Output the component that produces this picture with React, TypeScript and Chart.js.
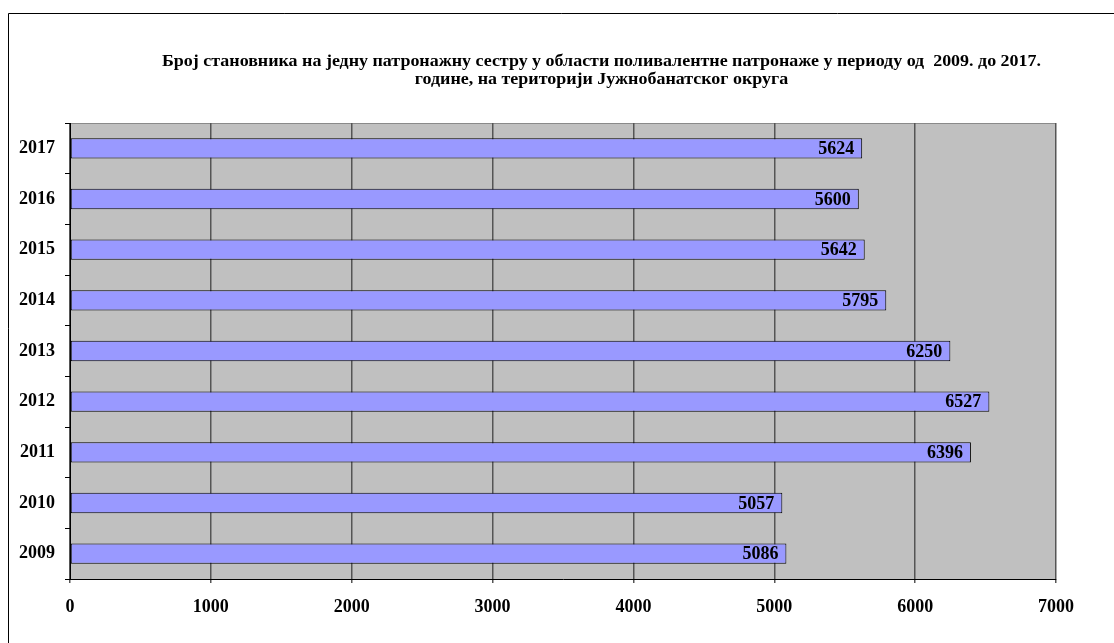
import React, { useEffect, useRef } from "react";
import { Chart, registerables } from "chart.js";

Chart.register(...registerables);

const years: string[] = ["2009", "2010", "2011", "2012", "2013", "2014", "2015", "2016", "2017"];
const values: number[] = [5086, 5057, 6396, 6527, 6250, 5795, 5642, 5600, 5624];
const titleLines: string[] = [
  "Број становника на једну патронажну сестру у области поливалентне патронаже у периоду од  2009. до 2017.",
  "године, на територији Јужнобанатског округа",
];
const xMin = 0;
const xMax = 7000;
const xStep = 1000;

const FONT = "'Liberation Serif', 'Times New Roman', Times, serif";

export default function App() {
  const ref = useRef<HTMLCanvasElement | null>(null);

  useEffect(() => {
    if (!ref.current) return;

    const decorPlugin = {
      id: "decor",
      beforeDraw(chart: any) {
        const { ctx, chartArea } = chart;
        ctx.save();
        ctx.fillStyle = "#ffffff";
        ctx.fillRect(0, 0, chart.width, chart.height);
        ctx.fillStyle = "#c0c0c0";
        ctx.fillRect(chartArea.left, chartArea.top, chartArea.right - chartArea.left, chartArea.bottom - chartArea.top);
        ctx.strokeStyle = "#8a8a8a";
        ctx.lineWidth = 1;
        ctx.beginPath();
        ctx.moveTo(chartArea.left, chartArea.top + 0.5);
        ctx.lineTo(chartArea.right, chartArea.top + 0.5);
        ctx.stroke();
        // outer frame (left and top edges)
        ctx.strokeStyle = "#000000";
        ctx.lineWidth = 1;
        ctx.beginPath();
        ctx.moveTo(8.5, chart.height);
        ctx.lineTo(8.5, 13.5);
        ctx.lineTo(chart.width, 13.5);
        ctx.stroke();
        // title
        ctx.fillStyle = "#000000";
        ctx.font = `bold 17px ${FONT}`;
        ctx.textBaseline = "alphabetic";
        const targetW = 879;
        const w1 = ctx.measureText(titleLines[0]).width;
        const ratio = targetW / w1;
        const cx = 601.5;
        ctx.translate(cx, 0);
        ctx.scale(ratio, 1);
        ctx.textAlign = "center";
        ctx.fillText(titleLines[0], 0, 66);
        ctx.fillText(titleLines[1], 0, 84);
        ctx.restore();
      },
      afterDatasetsDraw(chart: any) {
        const { ctx } = chart;
        const meta = chart.getDatasetMeta(0);
        ctx.save();
        ctx.fillStyle = "#000000";
        ctx.font = `bold 18px ${FONT}`;
        ctx.textAlign = "right";
        ctx.textBaseline = "middle";
        meta.data.forEach((bar: any, i: number) => {
          ctx.fillText(String(values[i]), bar.x - 8, bar.y + 1);
        });
        ctx.restore();
      },
    };

    const chart = new Chart(ref.current, {
      type: "bar",
      data: {
        labels: years,
        datasets: [
          {
            data: values,
            backgroundColor: "#9999ff",
            borderColor: "#000000",
            borderWidth: 1,
            borderSkipped: false,
            categoryPercentage: 1,
            barPercentage: 0.4,
          },
        ],
      },
      options: {
        indexAxis: "y",
        responsive: false,
        animation: false,
        devicePixelRatio: 1,
        layout: { padding: { top: 123, right: 58, left: 0, bottom: 0 } },
        plugins: {
          legend: { display: false },
          tooltip: { enabled: false },
          title: { display: false },
        },
        scales: {
          x: {
            type: "linear",
            min: xMin,
            max: xMax,
            ticks: {
              stepSize: xStep,
              color: "#000000",
              padding: 14,
              maxRotation: 0,
              font: { family: FONT, size: 18, weight: "bold" },
              callback: (v: any) => String(v),
            },
            grid: {
              color: "#555555",
              lineWidth: 1.5,
              drawTicks: true,
              tickLength: 4,
              tickColor: "#555555",
            },
            border: { display: true, color: "#000000", width: 1 },
            afterFit(scale: any) {
              scale.height = 64;
            },
          },
          y: {
            type: "category",
            reverse: true,
            ticks: {
              color: "#000000",
              padding: 10,
              font: { family: FONT, size: 18, weight: "bold" },
            },
            grid: {
              offset: true,
              drawOnChartArea: false,
              drawTicks: true,
              tickLength: 5,
              tickColor: "#000000",
              color: "#000000",
            },
            border: { display: true, color: "#000000", width: 1 },
            afterFit(scale: any) {
              scale.width = 70;
            },
          },
        },
      },
      plugins: [decorPlugin],
    } as any);

    return () => chart.destroy();
  }, []);

  return (
    <div style={{ position: "absolute", left: 0, top: 0, width: 1114, height: 643 }}>
      <canvas ref={ref} width={1114} height={643} style={{ display: "block", width: 1114, height: 643 }} />
    </div>
  );
}
